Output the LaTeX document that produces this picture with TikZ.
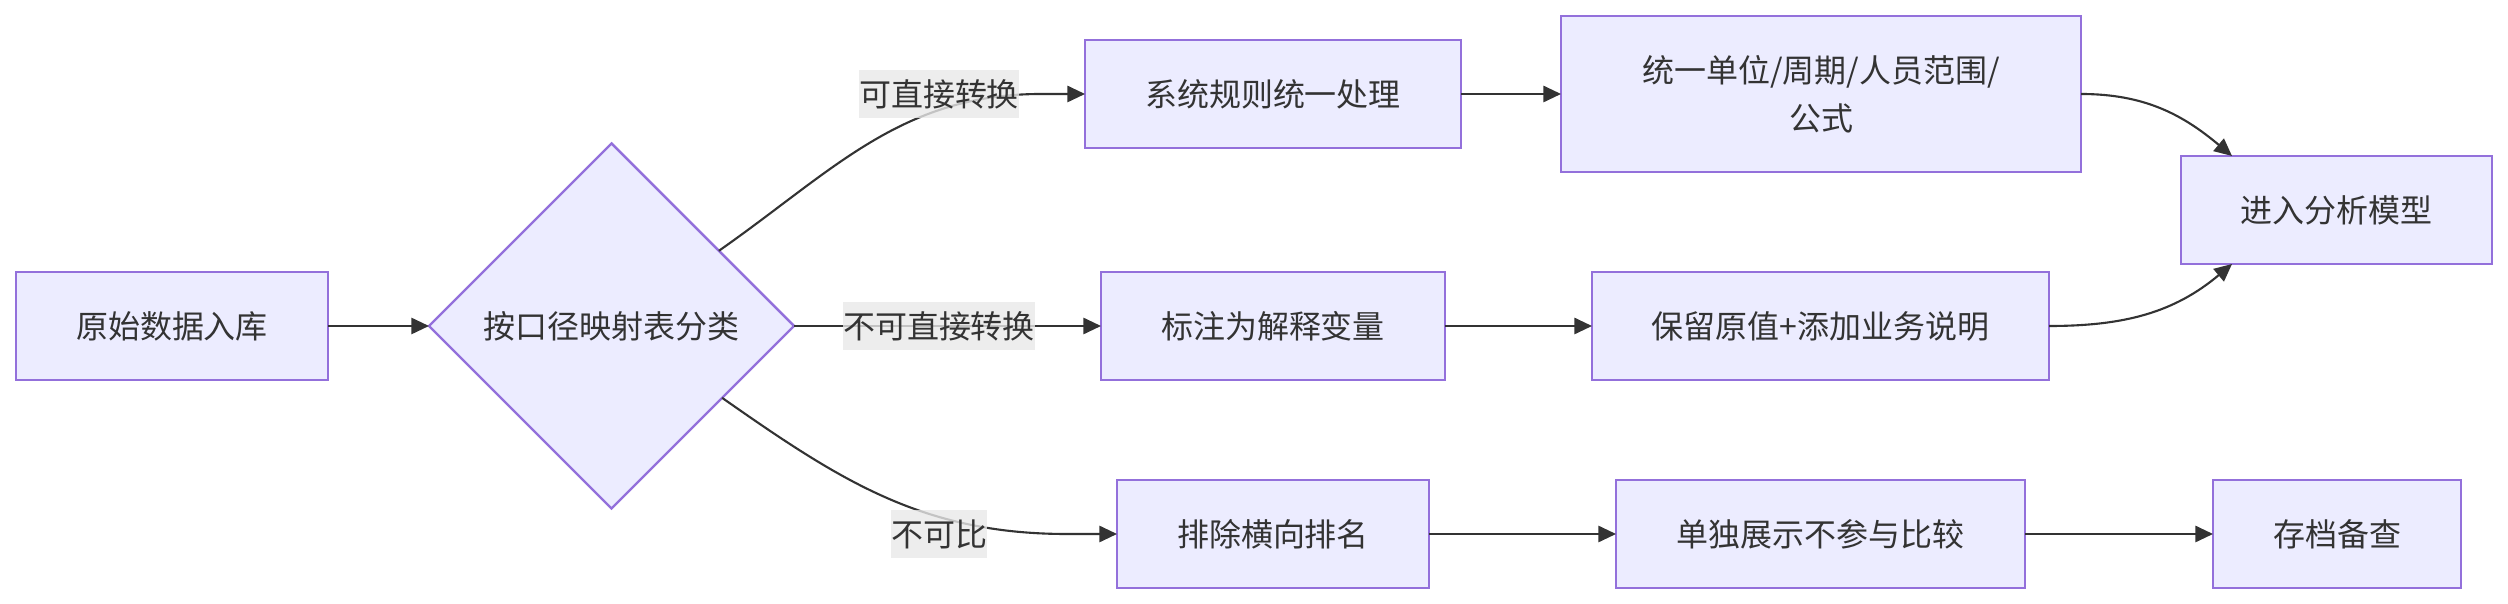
\documentclass[tikz,border=0pt]{standalone}
\usepackage{fontspec}
\setmainfont{Noto Sans CJK SC}
\usepackage{xcolor}
\usetikzlibrary{positioning, arrows.meta, shapes.geometric}
\definecolor{nodefill}{HTML}{ECECFF}
\definecolor{nodeline}{HTML}{9370DB}
\definecolor{inkgray}{HTML}{333333}
\definecolor{labelbg}{HTML}{E8E8E8}

\begin{document}
\begin{tikzpicture}[
    block/.style={draw=nodeline, fill=nodefill, line width=0.7pt, text=inkgray,
                  minimum height=1.08cm, inner sep=0pt, outer sep=0pt, align=center,
                  font=\fontsize{9.1}{13.7}\selectfont},
    decision/.style={block, diamond, aspect=1,
                     minimum width=3.65cm, minimum height=3.65cm},
    elabel/.style={fill=labelbg, fill opacity=0.8, text opacity=1, text=inkgray,
                   inner xsep=0pt, inner ysep=0pt, minimum height=0.48cm,
                   font=\fontsize{9.1}{13.7}\selectfont},
    arr/.style={-{Triangle[length=5pt, width=4.6pt]}, line width=0.6pt, draw=inkgray}
  ]
    \useasboundingbox (0,0) rectangle (25.08,-6.04);
    % Input and decision
    \node[block, minimum width=3.12cm] (raw) at (1.72,-3.26) {原始数据入库};
    \node[decision, right=1.01cm of raw] (classify) {按口径映射表分类};
    % Middle column
    \node[block, minimum width=3.44cm, right=3.07cm of classify] (mark) {标注为解释变量};
    \node[block, minimum width=3.76cm, above=1.24cm of mark] (rule) {系统规则统一处理};
    \node[block, minimum width=3.12cm, below=1.0cm of mark] (excl) {排除横向排名};
    % Right columns
    \node[block, minimum width=5.2cm, minimum height=1.56cm, right=1cm of rule] (unify)
          {统一单位/周期/人员范围/\\公式};
    \node[block, minimum width=4.57cm, right=1.47cm of mark] (keep) {保留原值+添加业务说明};
    \node[block, minimum width=4.09cm, right=1.87cm of excl] (solo) {单独展示不参与比较};
    \node[block, minimum width=2.48cm, right=1.88cm of solo] (archive) {存档备查};
    \node[block, minimum width=3.11cm, right=1.32cm of keep, yshift=1.16cm] (model) {进入分析模型};
    % Straight arrows
    \draw[arr] (raw) -- (classify);
    \draw[arr] (classify) -- (mark);
    \draw[arr] (rule) -- (unify);
    \draw[arr] (mark) -- (keep);
    \draw[arr] (excl) -- (solo);
    \draw[arr] (solo) -- (archive);
    % Branches out of the decision
    \coordinate[left=0.44cm of rule.west] (k1);
    \coordinate[left=0.5cm of excl.west] (k3);
    \draw[arr] (classify.35) to[out=35, in=180] (k1) -- (rule.west);
    \draw[arr] (classify.-33) to[out=-35, in=180] (k3) -- (excl.west);
    % Into the model
    \draw[arr] (unify.east) to[out=0, in=140] ([xshift=0.51cm]model.north west);
    \draw[arr] (keep.east) to[out=0, in=220] ([xshift=0.51cm]model.south west);
    % Edge labels
    \node[elabel] (l1) at ([xshift=-1.46cm]rule.west) {可直接转换};
    \node[elabel] (l2) at ([xshift=-1.62cm]mark.west) {不可直接转换};
    \node[elabel] (l3) at ([xshift=-1.78cm]excl.west) {不可比};
\end{tikzpicture}
\end{document}
